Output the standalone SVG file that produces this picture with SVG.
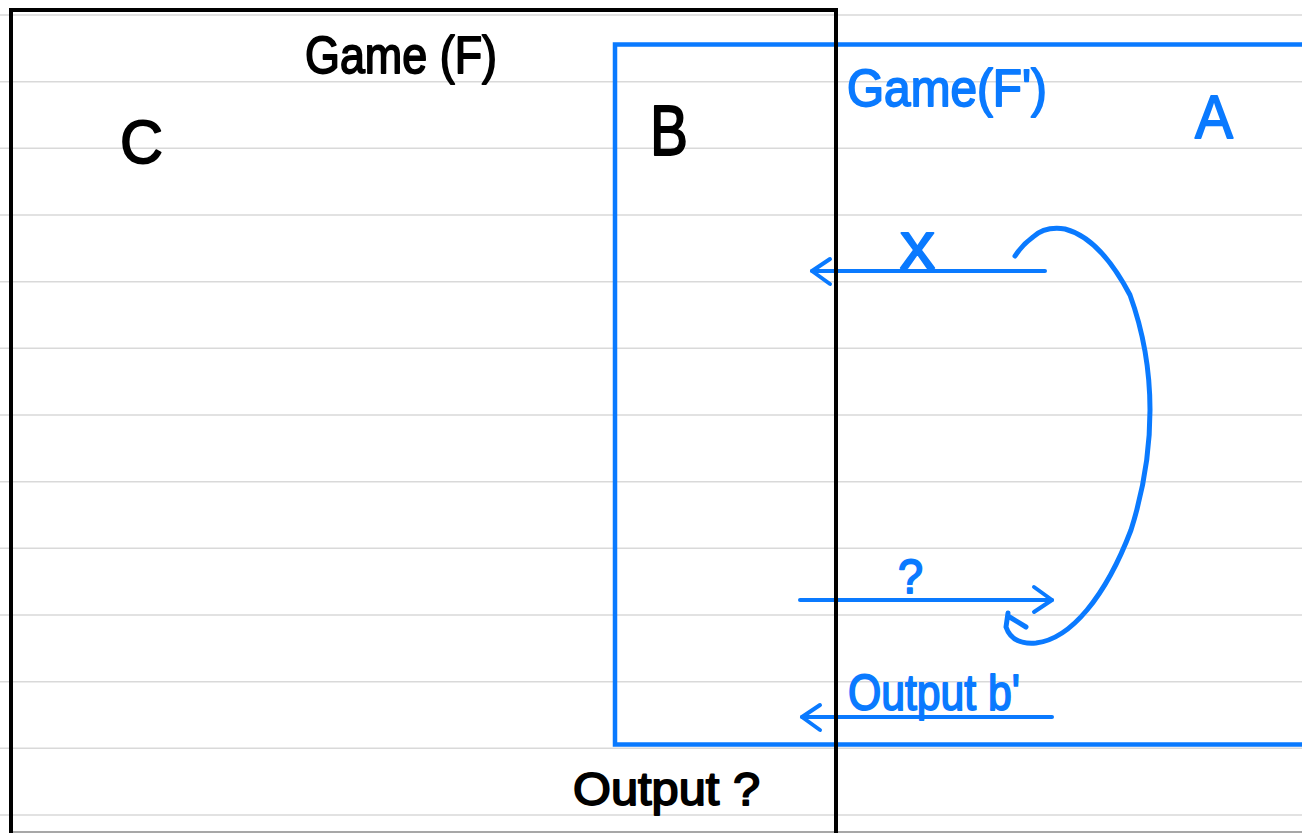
<svg xmlns="http://www.w3.org/2000/svg" width="1302" height="833" viewBox="0 0 1302 833">
  <style>
    .rule { stroke: #d9d9d9; stroke-width: 1.6; }
    .hand { font-family: "Liberation Sans", "DejaVu Sans", sans-serif; stroke-width: 1.8; stroke-linejoin: round; }
    .blk { fill: #000; stroke: #000; }
    .blu { fill: #0A7AFF; stroke: #0A7AFF; }
    .conn { fill: none; stroke: #0A7AFF; stroke-width: 4; stroke-linecap: round; stroke-linejoin: round; }
    .loop { stroke-width: 5; }
  </style>
  <defs>
    <marker id="chev" markerUnits="userSpaceOnUse" viewBox="-24 -16 28 32" refX="0" refY="0" markerWidth="28" markerHeight="32" orient="auto" overflow="visible">
      <path d="M-18,-13 L0,0 L-18,12" fill="none" stroke="#0A7AFF" stroke-width="4" stroke-linecap="round" stroke-linejoin="round"/>
    </marker>
  </defs>
  <rect width="1302" height="833" fill="#ffffff"/>
  <g id="ruled-lines">
    <line class="rule" x1="0" y1="15" x2="1302" y2="15"/>
    <line class="rule" x1="0" y1="81.7" x2="1302" y2="81.7"/>
    <line class="rule" x1="0" y1="148.3" x2="1302" y2="148.3"/>
    <line class="rule" x1="0" y1="215" x2="1302" y2="215"/>
    <line class="rule" x1="0" y1="281.7" x2="1302" y2="281.7"/>
    <line class="rule" x1="0" y1="348.3" x2="1302" y2="348.3"/>
    <line class="rule" x1="0" y1="415" x2="1302" y2="415"/>
    <line class="rule" x1="0" y1="481.7" x2="1302" y2="481.7"/>
    <line class="rule" x1="0" y1="548.3" x2="1302" y2="548.3"/>
    <line class="rule" x1="0" y1="615" x2="1302" y2="615"/>
    <line class="rule" x1="0" y1="681.7" x2="1302" y2="681.7"/>
    <line class="rule" x1="0" y1="748.3" x2="1302" y2="748.3"/>
    <line class="rule" x1="0" y1="815" x2="1302" y2="815"/>
    <line x1="12" y1="832" x2="1302" y2="832" stroke="#8a8a8a" stroke-width="1.5"/>
  </g>
  <g id="game-f-prime">
    <rect x="615" y="44.5" width="760" height="700" fill="none" stroke="#0A7AFF" stroke-width="4.5"/>
    <text class="hand blu" x="847" y="106" font-size="52" textLength="200" lengthAdjust="spacingAndGlyphs">Game(F')</text>
  </g>
  <g id="node-A">
    <text class="hand blu" x="1195" y="138" font-size="62" textLength="38" lengthAdjust="spacingAndGlyphs">A</text>
  </g>
  <g id="connectors">
    <path id="conn-x" class="conn" d="M1045,271 L812,271" marker-end="url(#chev)"/>
    <path id="conn-q" class="conn" d="M800,600 L1052,600" marker-end="url(#chev)"/>
    <path id="conn-out" class="conn" d="M1052,717 L802,717" marker-end="url(#chev)"/>
    <path id="conn-loop" class="conn loop" d="M1015,256 Q1022,245 1033,237 Q1045,226 1065,229 Q1100,238 1130,295 Q1150,350 1150,410 Q1150,470 1131,530 Q1112,580 1087,610 Q1062,640 1036,643 Q1012,645 1006,627 L1008,613 M1008,616 L1026,627"/>
    <text class="hand blu" x="900" y="268" font-size="66" textLength="35" lengthAdjust="spacingAndGlyphs">x</text>
    <text class="hand blu" x="898" y="593" font-size="48" textLength="25" lengthAdjust="spacingAndGlyphs">?</text>
    <text class="hand blu" x="848" y="710" font-size="50" textLength="172" lengthAdjust="spacingAndGlyphs">Output b'</text>
  </g>
  <g id="game-f">
    <rect x="11" y="10" width="825" height="860" fill="none" stroke="#000" stroke-width="4"/>
    <text class="hand blk" x="305" y="73" font-size="52" textLength="192" lengthAdjust="spacingAndGlyphs">Game (F)</text>
    <text class="hand blk" x="573" y="805" font-size="46" textLength="187" lengthAdjust="spacingAndGlyphs">Output ?</text>
  </g>
  <g id="node-C">
    <text class="hand blk" x="120" y="163" font-size="62" textLength="43" lengthAdjust="spacingAndGlyphs">C</text>
  </g>
  <g id="node-B">
    <text class="hand blk" x="650" y="155" font-size="70" textLength="38" lengthAdjust="spacingAndGlyphs">B</text>
  </g>
</svg>
